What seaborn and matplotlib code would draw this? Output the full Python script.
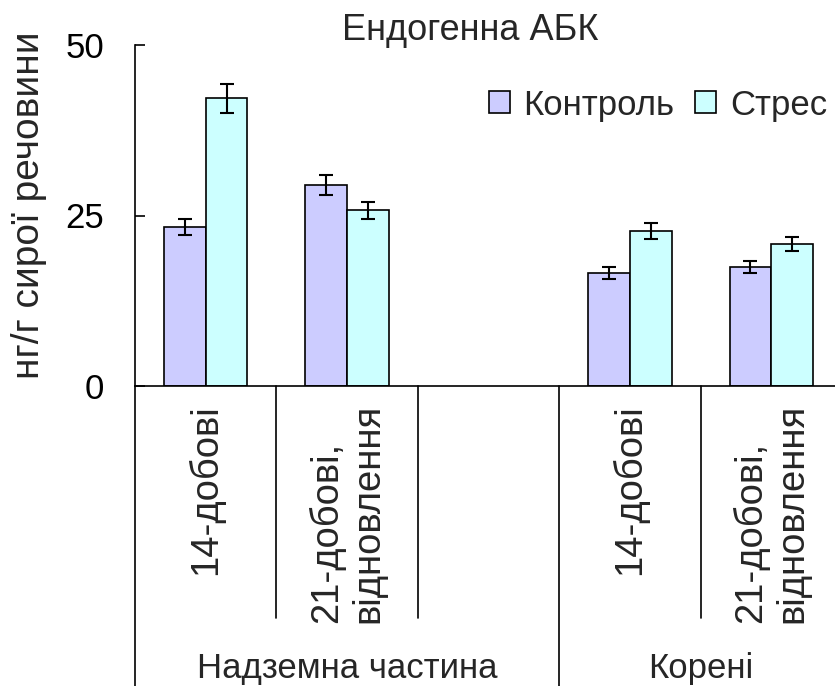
import pandas as pd
import seaborn as sns
import matplotlib.pyplot as plt
from matplotlib.patches import Patch

# Data
slots = ['shoot_14', 'shoot_21', 'gap', 'root_14', 'root_21']
slot_labels = ['14-добові', '21-добові,\nвідновлення', '', '14-добові', '21-добові,\nвідновлення']
filled_slots = ['shoot_14', 'shoot_21', 'root_14', 'root_21']
control = [23.3, 29.5, 16.6, 17.4]
stress = [42.2, 25.8, 22.7, 20.8]
control_err = [1.2, 1.5, 0.9, 0.9]
stress_err = [2.1, 1.25, 1.15, 1.0]
groups = ['Надземна частина', 'Корені']
series = ['Контроль', 'Стрес']
colors = ['#CCCCFF', '#CCFFFF']

df = pd.DataFrame({
    'slot': filled_slots * 2,
    'series': [series[0]] * 4 + [series[1]] * 4,
    'value': control + stress,
})

sns.set_theme(style='white')
plt.rcParams['font.family'] = ['Liberation Sans', 'DejaVu Sans']
FS = 25

fig = plt.figure(figsize=(8.35, 6.86), dpi=100)
W, H = 835, 686
ax = fig.add_axes([135 / W, (H - 386) / H, 707 / W, 341 / H])

sns.barplot(data=df, x='slot', y='value', hue='series', order=slots,
            hue_order=series, palette=colors, saturation=1, width=0.59,
            edgecolor='black', linewidth=1.2, errorbar=None, ax=ax, legend=False)

# error bars on top of the drawn bars
for cont, err in zip(ax.containers, [control_err, stress_err]):
    xs = [p.get_x() + p.get_width() / 2 for p in cont]
    ys = [p.get_height() for p in cont]
    ax.errorbar(xs, ys, yerr=err, fmt='none', ecolor='black',
                elinewidth=1.5, capsize=5, capthick=1.5)

ax.set_xlim(-0.5, 4.5)
ax.set_ylim(0, 50)
ax.set_yticks([0, 25, 50])
ax.tick_params(axis='y', direction='in', length=7, width=1.2, left=True,
               labelsize=FS, pad=22, colors='black')
ax.set_xticks(range(len(slots)))
ax.set_xticklabels(slot_labels, rotation=90, va='top', ha='center',
                   multialignment='left', fontsize=27.5)
ax.tick_params(axis='x', length=0, pad=13)
ax.set_xlabel('')
ax.set_ylabel('нг/г сирої речовини', fontsize=28)
ax.yaxis.set_label_coords(-0.125, 0.53)

for s in ['top', 'right']:
    ax.spines[s].set_visible(False)
for s in ['left', 'bottom']:
    ax.spines[s].set_color('black')
    ax.spines[s].set_linewidth(1.2)

# category separators below the axis
tr = ax.get_xaxis_transform()
short_y = -(618 - 386) / 341
long_y = -(H - 386) / 341
for xb in [0.5, 1.5, 3.5]:
    ax.plot([xb, xb], [0, short_y], color='black', lw=1.2, transform=tr, clip_on=False)
for xb in [-0.5, 2.5]:
    ax.plot([xb, xb], [0, long_y], color='black', lw=1.2, transform=tr, clip_on=False)

# group labels
group_y = -(678 - 386) / 341
ax.text(1.0, group_y, groups[0], transform=tr, ha='center', va='baseline', fontsize=FS)
ax.text(3.5, group_y, groups[1], transform=tr, ha='center', va='baseline', fontsize=FS)

fig.text(470 / W, 1 - 30 / H, 'Ендогенна АБК', ha='center', va='center', fontsize=26)

handles = [Patch(facecolor=c, edgecolor='black', linewidth=1.2) for c in colors]
ax.legend(handles, series, loc='center', bbox_to_anchor=(658 / W, 1 - 105 / H),
          bbox_transform=fig.transFigure, ncol=2, frameon=False, fontsize=FS,
          handlelength=0.6, handleheight=0.6, handletextpad=0.4,
          columnspacing=0.6, borderpad=0)

fig.savefig('out.png', dpi=100)
